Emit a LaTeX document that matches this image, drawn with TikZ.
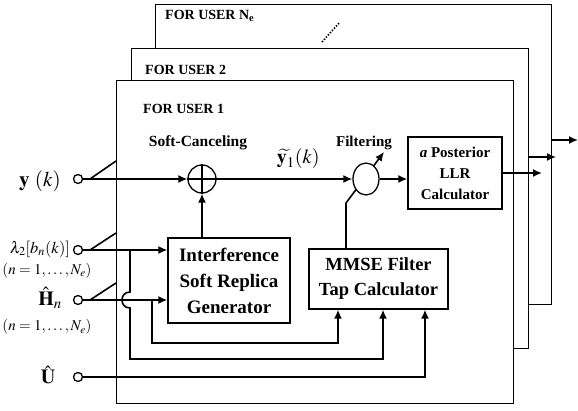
\documentclass[tikz,border=0pt]{standalone}
\usepackage{amsmath}
\usepackage{mathptmx}
\usepackage[no-math]{fontspec}
\setmainfont{Liberation Serif}
\usetikzlibrary{arrows.meta,shapes.geometric}
\begin{document}
\begin{tikzpicture}[x=1pt,y=-1pt,
  sig/.style={line width=1.6pt},
  arr/.style={sig,-{Latex[length=9pt,width=8pt]}},
  frame/.style={draw,line width=1.4pt,fill=white,anchor=north west,inner sep=0pt},
  blk/.style={draw,line width=1.3pt,fill=white,align=center,inner sep=0pt},
  term/.style={circle,draw,line width=1.3pt,fill=white,minimum size=9pt,inner sep=0pt},
  lbl/.style={inner sep=0pt},
  ftitle/.style={lbl,anchor=west,font=\fontsize{14}{14}\selectfont\bfseries}]
\useasboundingbox (0,0) rectangle (578,411);

% stacked frames
\node[frame,minimum width=396pt,minimum height=300pt] (f3) at (155,4) {};
\node[ftitle] (t3) at (165,16) {FOR USER N\textsubscript{e}};
\coordinate (d1) at (322,42);
\coordinate (d2) at (340,22);
\draw[line width=1.6pt,dash pattern=on 1.4pt off 1.6pt] (d1) -- (d2);
\node[frame,minimum width=397pt,minimum height=300pt] (f2) at (131,48) {};
\node[ftitle] (t2) at (145,70) {FOR USER 2};
\node[frame,minimum width=397pt,minimum height=323pt] (f1) at (116,80) {};
\node[ftitle] (t1) at (143,109) {FOR USER 1};

% outputs on the right
\coordinate (o2s) at (528,157);
\coordinate (o2e) at (556,157);
\coordinate (o3s) at (551,140);
\coordinate (o3e) at (578,140);
\draw[arr] (o2s) -- (o2e);
\draw[arr] (o3s) -- (o3e);

% blocks
\node[blk,minimum width=122pt,minimum height=85pt,font=\fontsize{19}{26}\selectfont\bfseries] (ir) at (229,280.5)
  {Interference\\Soft Replica\\Generator};
\node[blk,minimum width=139pt,minimum height=60pt,font=\fontsize{18.5}{25}\selectfont\bfseries] (mm) at (378.5,279)
  {MMSE Filter\\Tap Calculator};
\node[blk,minimum width=94pt,minimum height=72pt,font=\fontsize{15}{21}\selectfont\bfseries] (llr) at (455,173)
  {\textit{a} Posterior\\LLR\\Calculator};

% adder
\node[circle,draw,line width=1.3pt,minimum size=28pt,inner sep=0pt] (add) at (202,179) {};
\draw[line width=1.1pt] (add.north) -- (add.south) (add.west) -- (add.east);
\node[lbl,font=\fontsize{15.5}{15.5}\selectfont\bfseries] (lsc) at (198,143) {Soft-Canceling};

% filter control line (passes behind filter)
\coordinate (c0) at (346,249);
\coordinate (c1) at (346,203);
\coordinate (c2) at (384,152);
\draw[arr] (c0) -- (c1) -- (c2);
\node[ellipse,draw,line width=1.3pt,fill=white,minimum width=26pt,minimum height=32pt,inner sep=0pt] (filt) at (366,179) {};
\node[lbl,font=\fontsize{15}{15}\selectfont\bfseries] (lfi) at (364,143) {Filtering};
\node[lbl,font=\fontsize{20}{20}\selectfont] (lyt) at (300,159)
  {$\boldsymbol{\widetilde{\phantom{y}}}\hspace{-0.62em}\mathbf{y}_1(k)$};

% terminals
\node[term] (ty) at (78,179) {};
\node[term] (tl) at (78,250) {};
\node[term] (th) at (78,300) {};
\node[term] (tu) at (78,377) {};
\node[lbl,font=\fontsize{21}{21}\selectfont] (ly) at (40,181) {\boldmath$\mathbf{y}\ (k)$};
\node[lbl,font=\fontsize{16.5}{16.5}\selectfont] (ll) at (40,249) {$\lambda_2[b_n(k)]$};
\node[lbl,font=\fontsize{15}{15}\selectfont] (ln1) at (47,271) {$(n=1,\ldots,N_e)$};
\node[lbl,font=\fontsize{20}{20}\selectfont] (lh) at (50,298) {$\hat{\mathbf{H}}_n$};
\node[lbl,font=\fontsize{15}{15}\selectfont] (ln2) at (47,327) {$(n=1,\ldots,N_e)$};
\node[lbl,font=\fontsize{20}{20}\selectfont] (lu) at (48,375) {$\hat{\mathbf{U}}$};

% fan-out diagonals
\coordinate (ya) at (90,179);  \coordinate (yb) at (116,161);
\coordinate (la) at (90,250);  \coordinate (lb) at (116,233);
\coordinate (ha) at (90,300);  \coordinate (hb) at (116,283);
\draw[sig] (ya) -- (yb) (la) -- (lb) (ha) -- (hb);

% main signal path
\draw[arr] (ty) -- (add);
\draw[arr] (ir.north -| add) -- (add.south);
\draw[arr] (add.east) -- (filt.west);
\draw[arr] (filt.east) -- (filt.east -| llr.west);
\coordinate (o1e) at (542,173);
\draw[arr] (llr.east) -- (o1e);

% inputs to replica generator
\draw[arr] (tl) -- (tl -| ir.west);
\draw[arr] (th) -- (th -| ir.west);

% lambda branch (hops over H line)
\coordinate (lj) at (130,250);
\coordinate (lh1) at (130,292);
\coordinate (lh2) at (130,308);
\coordinate (lbot) at (130,359);
\coordinate (lm) at (383,359);
\draw[arr] (lj) -- (lh1) .. controls (119.3,292) and (119.3,308) .. (lh2) -- (lbot) -- (lm) -- (lm |- mm.south);

% H branch
\coordinate (hj) at (152,300);
\coordinate (hbot) at (152,343);
\coordinate (hm) at (338,343);
\draw[arr] (hj) -- (hbot) -- (hm) -- (hm |- mm.south);

% U input
\coordinate (um) at (425,377);
\draw[arr] (tu) -- (um) -- (um |- mm.south);
\end{tikzpicture}
\end{document}
